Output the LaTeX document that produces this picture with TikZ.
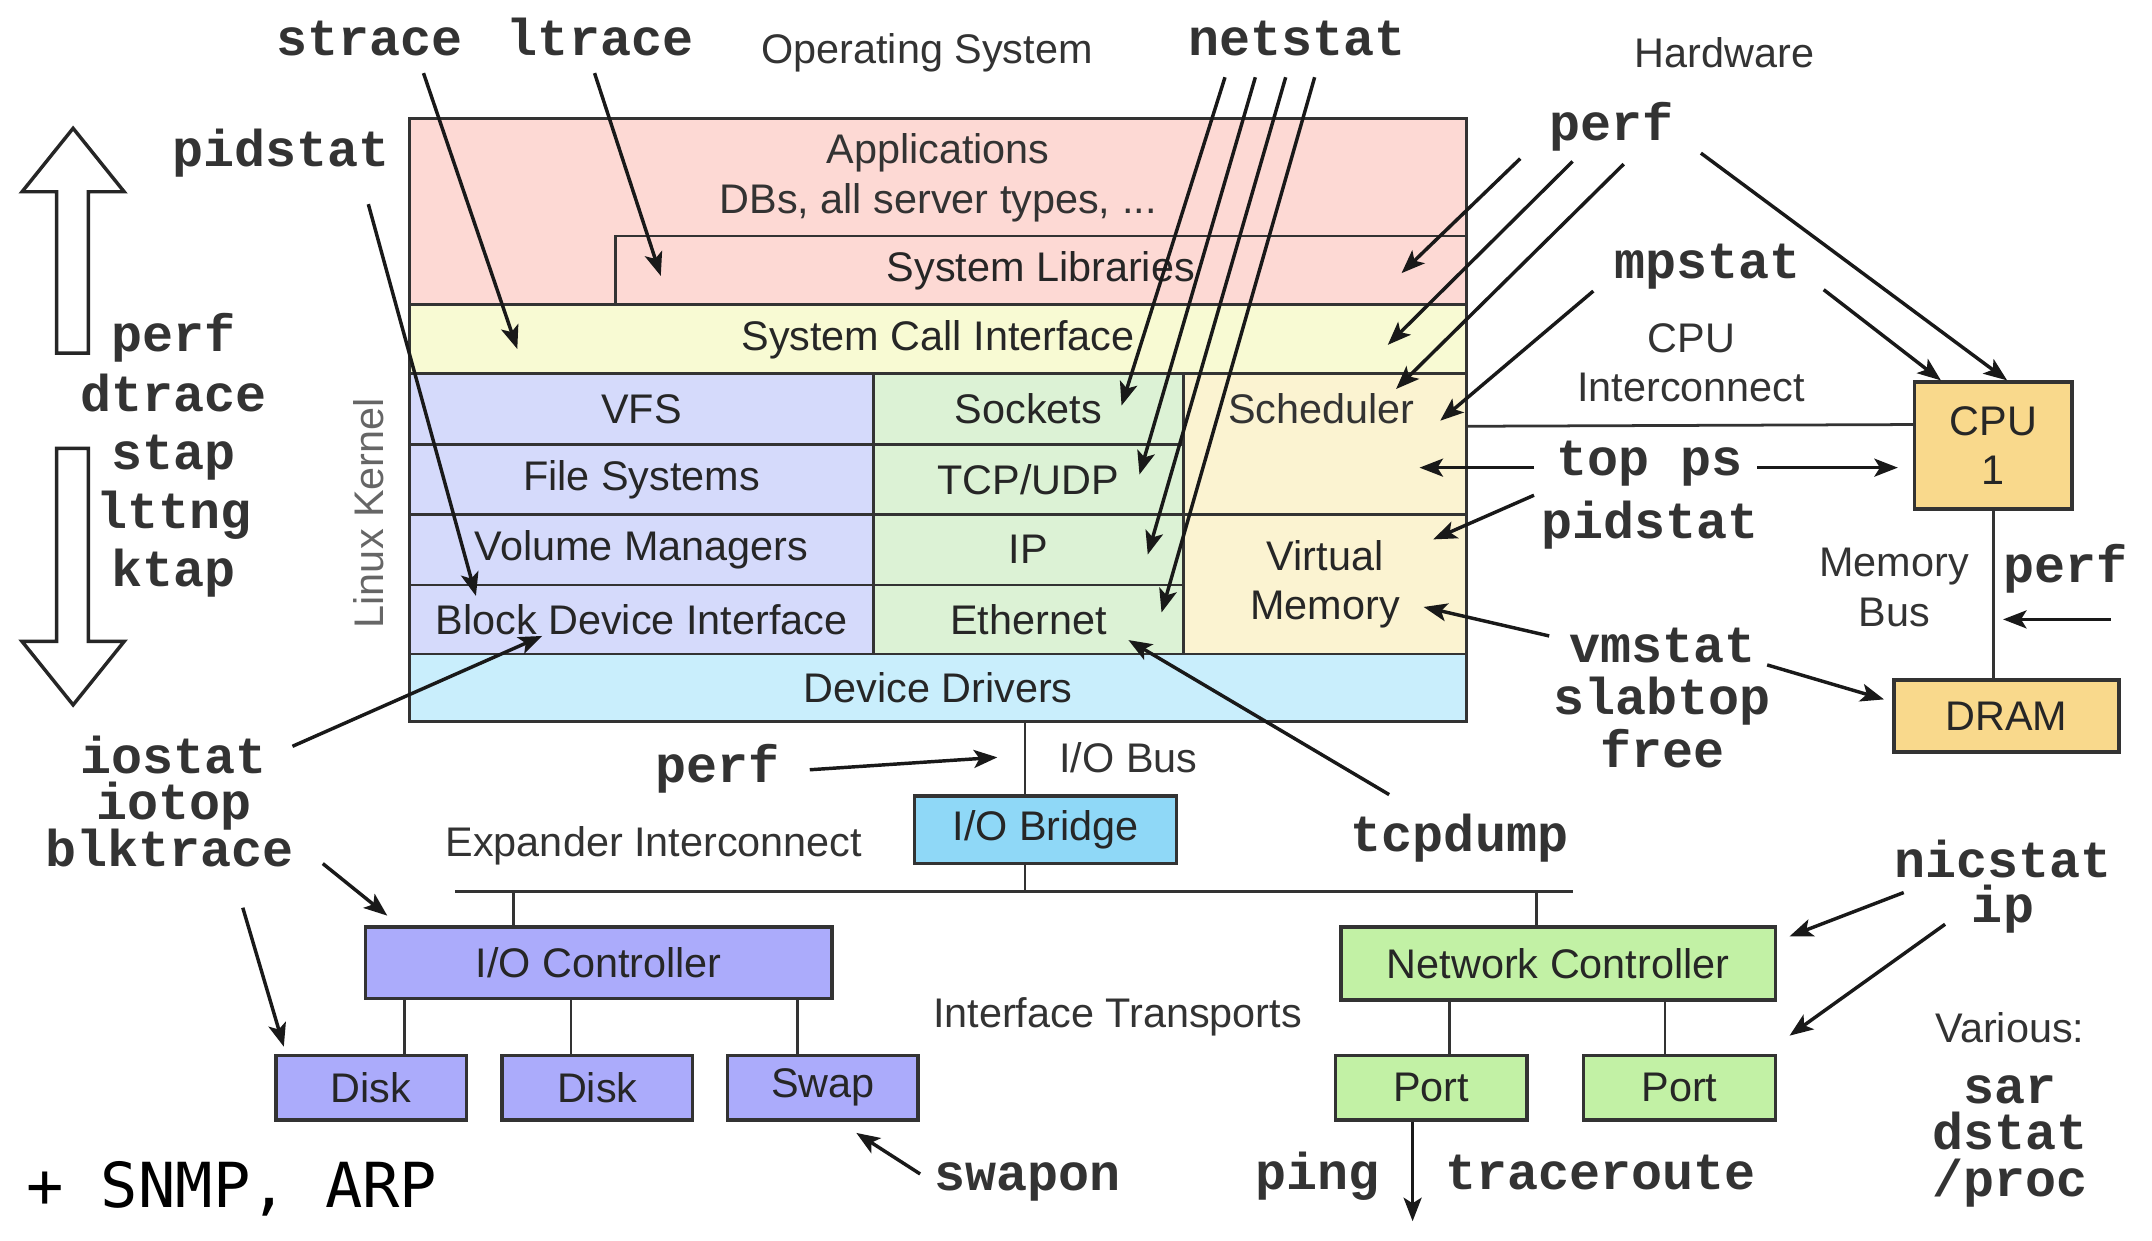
\documentclass[tikz,border=0pt]{standalone}
\usepackage{fontspec}
\setmainfont{Liberation Sans}
\newfontfamily\toolfamily{Liberation Mono}
\newfontfamily\extrafamily{DejaVu Sans Mono}
\usetikzlibrary{arrows.meta,calc}

\definecolor{appcol}{HTML}{FDD9D4}
\definecolor{scicol}{HTML}{F8FAD3}
\definecolor{fscol}{HTML}{D5DAFB}
\definecolor{netcol}{HTML}{DCF2D5}
\definecolor{memcol}{HTML}{FBF3D1}
\definecolor{drvcol}{HTML}{C9EEFC}
\definecolor{cpucol}{HTML}{F9D98C}
\definecolor{bridgecol}{HTML}{8FD8F7}
\definecolor{ioccol}{HTML}{ABABFB}
\definecolor{niccol}{HTML}{C2F1A5}

\tikzset{
	layer/.style={draw=black!80, line width=2pt, anchor=north west, inner sep=0pt, align=center, font=\fontsize{30}{36}\selectfont, text=black!85},
	hwbox/.style={draw=black!80, line width=2.5pt, inner sep=0pt, align=center, font=\fontsize{30}{36}\selectfont, text=black!85},
	tool/.style={inner sep=0pt, text=black!80, text height=22pt, text depth=2pt, font=\toolfamily\bfseries\fontsize{37.5}{40}\selectfont},
	note/.style={inner sep=0pt, text=black!80, align=center, font=\fontsize{30}{36}\selectfont},
	probe/.style={-{Stealth[length=17pt,width=13pt,inset=4pt]}, line width=2.5pt, black!90},
	wire/.style={line width=2pt, black!80},
	hollow/.style={draw=black!85, line width=2.5pt, fill=white, line join=miter}
}

\begin{document}
\begin{tikzpicture}[x=1pt, y=-1pt]
	\useasboundingbox (0,0) rectangle (1560,899);

	\node[layer, fill=appcol, minimum width=766pt, minimum height=135pt] (apps) at (296,85) {};
	\node[note] (appstext) at (680,129) {Applications\\DBs, all server types, ...};
	\node[layer, fill=appcol, minimum width=617pt, minimum height=50pt] (libs) at (445,170) {System Libraries};
	\node[layer, fill=scicol, minimum width=766pt, minimum height=50pt] (sci) at (296,220) {System Call Interface};
	\node[layer, fill=fscol, minimum width=336pt, minimum height=51pt] (vfs) at (296,270) {VFS};
	\node[layer, fill=fscol, minimum width=336pt, minimum height=51pt] (fsys) at (296,321) {File Systems};
	\node[layer, fill=fscol, minimum width=336pt, minimum height=51pt] (volmgr) at (296,372) {Volume Managers};
	\node[layer, fill=fscol, minimum width=336pt, minimum height=50pt] (blkdev) at (296,423) {Block Device Interface};
	\node[layer, fill=netcol, minimum width=225pt, minimum height=51pt] (sockets) at (632,270) {Sockets};
	\node[layer, fill=netcol, minimum width=225pt, minimum height=51pt] (tcpudp) at (632,321) {TCP/UDP};
	\node[layer, fill=netcol, minimum width=225pt, minimum height=51pt] (ip) at (632,372) {IP};
	\node[layer, fill=netcol, minimum width=225pt, minimum height=50pt] (eth) at (632,423) {Ethernet};
	\node[layer, fill=memcol, minimum width=205pt, minimum height=102pt] (sched) at (857,270) {};
	\node[note] (schedtext) at (958,296) {Scheduler};
	\node[layer, fill=memcol, minimum width=205pt, minimum height=101pt] (virtmem) at (857,372) {Virtual\\Memory};
	\node[layer, fill=drvcol, minimum width=766pt, minimum height=49pt] (drivers) at (296,473) {Device Drivers};
	\node[note, rotate=90, text=black!60] (kernel) at (267,372) {Linux Kernel};

	\node[hwbox, fill=cpucol, minimum width=114pt, minimum height=92pt] (cpu) at (1445,323) {CPU\\1};
	\node[hwbox, fill=cpucol, minimum width=163pt, minimum height=52pt] (dram) at (1454.5,519) {DRAM};
	\node[hwbox, fill=bridgecol, minimum width=190pt, minimum height=49pt] (bridge) at (758,601.5) {I/O Bridge};
	\node[hwbox, fill=ioccol, minimum width=338pt, minimum height=52pt] (ioctl) at (434,698) {I/O Controller};
	\node[hwbox, fill=ioccol, minimum width=138pt, minimum height=47pt] (disk1) at (269,788.5) {Disk};
	\node[hwbox, fill=ioccol, minimum width=138pt, minimum height=47pt] (disk2) at (433,788.5) {Disk};
	\node[hwbox, fill=ioccol, minimum width=138pt, minimum height=47pt] (swap) at (596.5,788.5) {Swap};
	\node[hwbox, fill=niccol, minimum width=315pt, minimum height=53pt] (netctl) at (1129.5,698.5) {Network Controller};
	\node[hwbox, fill=niccol, minimum width=139pt, minimum height=47pt] (port1) at (1037.5,788.5) {Port};
	\node[hwbox, fill=niccol, minimum width=139pt, minimum height=47pt] (port2) at (1217.5,788.5) {Port};

	\coordinate (expL) at (330,646);
	\coordinate (expR) at (1140,646);
	\coordinate (iobus) at ($(drivers.south west)+(447,0)$);
	\draw[wire] ($(sched.north east)+(0,39)$) -- ($(cpu.north west)+(0,32)$);
	\draw[wire] (cpu.south) -- (cpu.south |- dram.north);
	\draw[wire] (iobus) -- (iobus |- bridge.north);
	\draw[wire] (iobus |- bridge.south) -- (iobus |- expL);
	\draw[wire] (expL) -- (expR);
	\draw[wire] ([xshift=-62pt]ioctl.north) -- ([xshift=-62pt]ioctl.north |- expL);
	\draw[wire] ([xshift=-15.5pt]netctl.north) -- ([xshift=-15.5pt]netctl.north |- expR);
	\draw[wire] ([xshift=24pt]disk1.north) -- ([xshift=24pt]disk1.north |- ioctl.south);
	\draw[wire] ([xshift=-19pt]disk2.north) -- ([xshift=-19pt]disk2.north |- ioctl.south);
	\draw[wire] ([xshift=-18.5pt]swap.north) -- ([xshift=-18.5pt]swap.north |- ioctl.south);
	\draw[wire] ([xshift=13.5pt]port1.north) -- ([xshift=13.5pt]port1.north |- netctl.south);
	\draw[wire] ([xshift=-10.5pt]port2.north) -- ([xshift=-10.5pt]port2.north |- netctl.south);

	\draw[hollow] (41,256) -- (41,139) -- (16,139) -- (53,93) -- (90,139) -- (64,139) -- (64,256) -- cycle;
	\draw[hollow] (41,325) -- (41,465) -- (16,465) -- (53,511) -- (90,465) -- (64,465) -- (64,325) -- cycle;

	\node[note] (ostitle) at (672,38) {Operating System};
	\node[note] (hwtitle) at (1250,38) {Hardware};
	\node[note] (cpuic) at (1226,263) {CPU\\Interconnect};
	\node[note] (membus) at (1373,426) {Memory\\Bus};
	\node[note] (iobustext) at (818,549) {I/O Bus};
	\node[note] (expander) at (474,613) {Expander Interconnect};
	\node[note] (transports) at (810,737) {Interface Transports};
	\node[note] (various) at (1457,745) {Various:};
	\node[inner sep=0pt, font=\extrafamily\fontsize{45}{50}\selectfont] (extras) at (168,862) {+ SNMP, ARP};

	\node[tool] (strace) at (268,30) {strace};
	\node[tool] (ltrace) at (435,30) {ltrace};
	\node[tool] (netstat) at (940,30) {netstat};
	\node[tool] (pidstatA) at (204,111) {pidstat};
	\node[tool] (perfT) at (1168,92) {perf};
	\node[tool] (mpstat) at (1238,192) {mpstat};
	\node[tool] (topps) at (1196,335) {top ps};
	\node[tool] (pidstatB) at (1196,380) {pidstat};
	\node[tool] (vmstat) at (1205,470) {vmstat};
	\node[tool] (slabtop) at (1205,508) {slabtop};
	\node[tool] (free) at (1205,546) {free};
	\node[tool] (perfM) at (1497,412) {perf};
	\node[tool] (perfL) at (126,245) {perf};
	\node[tool] (dtrace) at (126,288) {dtrace};
	\node[tool] (stap) at (126,330) {stap};
	\node[tool] (lttng) at (126,373) {lttng};
	\node[tool] (ktap) at (126,415) {ktap};
	\node[tool] (iostat) at (126,551) {iostat};
	\node[tool] (iotop) at (126,584) {iotop};
	\node[tool] (blktrace) at (123,618) {blktrace};
	\node[tool] (perfB) at (520,557) {perf};
	\node[tool] (tcpdump) at (1058,607) {tcpdump};
	\node[tool] (nicstat) at (1452,626) {nicstat};
	\node[tool] (iptool) at (1452,659) {ip};
	\node[tool] (swapon) at (745,853) {swapon};
	\node[tool] (ping) at (955,852) {ping};
	\node[tool] (traceroute) at (1160,852) {traceroute};
	\node[tool] (sar) at (1457,790) {sar};
	\node[tool] (dstat) at (1457,823) {dstat};
	\node[tool] (proc) at (1457,857) {/proc};

	\draw[probe] ($(strace)+(39,23)$) -- ($(sci.north west)+(79,33)$);
	\draw[probe] ($(ltrace)+(-4,23)$) -- ($(libs.north west)+(34,30)$);
	\draw[probe] ($(pidstatA)+(63,37)$) -- ($(blkdev.north west)+(49,9)$);
	\draw[probe] ($(netstat)+(-52,26)$) -- ($(sockets.north west)+(181,24)$);
	\draw[probe] ($(netstat)+(-30,26)$) -- ($(tcpudp.north west)+(194,23)$);
	\draw[probe] ($(netstat)+(-8,26)$) -- ($(ip.north west)+(200,30)$);
	\draw[probe] ($(netstat)+(13,26)$) -- ($(eth.north west)+(210,21)$);
	\draw[probe] ($(perfT)+(-66,23)$) -- ($(libs.north east)+(-48,28)$);
	\draw[probe] ($(perfT)+(-28,25)$) -- ($(sci.north east)+(-58,30)$);
	\draw[probe] ($(perfT)+(9,27)$) -- ($(sched.north east)+(-52,12)$);
	\draw[probe] ($(perfT)+(65,19)$) -- ($(cpu.north)+(10,0)$);
	\draw[probe] ($(mpstat)+(-83,19)$) -- ($(sched.north east)+(-20,35)$);
	\draw[probe] ($(mpstat)+(84,18)$) -- ($(cpu.north)+(-38,0)$);
	\draw[probe] ($(topps)+(-84,4)$) -- ($(sched.north east)+(-35,69)$);
	\draw[probe] ($(topps)+(78,4)$) -- ($(cpu.west)+(-11,16)$);
	\draw[probe] ($(pidstatB)+(-84,-21)$) -- ($(virtmem.north east)+(-25,19)$);
	\draw[probe] ($(perfM)+(33,37)$) -- ($(perfM)+(-45,37)$);
	\draw[probe] ($(vmstat)+(-82,-9)$) -- ($(virtmem.north east)+(-32,68)$);
	\draw[probe] ($(vmstat)+(76,12)$) -- ($(dram.west)+(-6,-12)$);
	\draw[probe] ($(iostat)+(86,-10)$) -- ($(blkdev.north west)+(97,38)$);
	\draw[probe] ($(blktrace)+(111,8)$) -- ($(ioctl.north west)+(17,-7)$);
	\draw[probe] ($(blktrace)+(53,40)$) -- ($(disk1.north west)+(7,-5)$);
	\draw[probe] ($(perfB)+(67,1)$) -- ($(iobus)+(-20,25)$);
	\draw[probe] ($(tcpdump)+(-51,-31)$) -- ($(eth.north west)+(186,41)$);
	\draw[probe] ($(swapon)+(-78,-2)$) -- ($(swap.south east)+(-46,8)$);
	\draw[probe] ($(nicstat)+(-72,21)$) -- ($(netctl.north east)+(9,8)$);
	\draw[probe] ($(iptool)+(-42,11)$) -- ($(port2.north east)+(9,-13)$);
	\draw[probe] ($(port1.south)+(-13.5,0)$) -- ($(port1.south)+(-13.5,72)$);
\end{tikzpicture}
\end{document}
